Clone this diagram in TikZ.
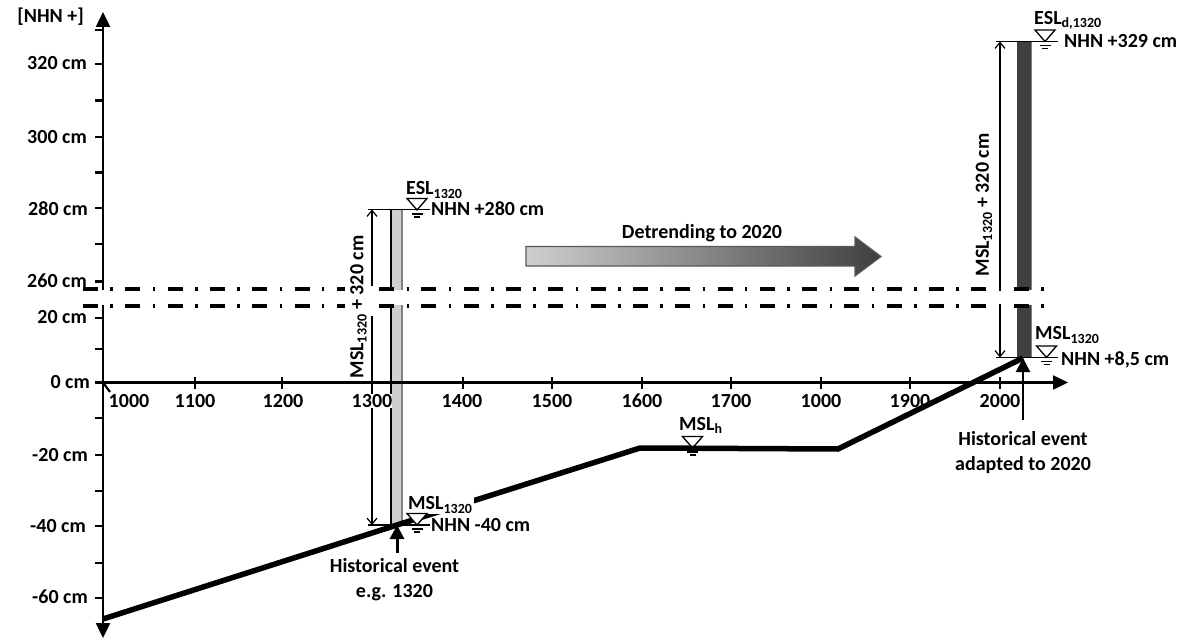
\documentclass[tikz,border=0pt]{standalone}
\usepackage{fontspec}
\setmainfont{Carlito}
\usetikzlibrary{arrows.meta, positioning}
\definecolor{barlight}{HTML}{CFCFCF}
\definecolor{bardark}{HTML}{3F3F3F}
\tikzset{
  lbl/.style={font=\fontsize{20}{25}\selectfont\bfseries, inner sep=0pt, text=black},
  ylbl/.style={lbl, anchor=east},
  xlbl/.style={lbl, anchor=center, fill=white},
  wlbl/.style={lbl, anchor=west},
  evlbl/.style={lbl, align=center, anchor=north},
  axis/.style={line width=2.4pt, -{Triangle[length=15pt,width=14pt]}},
  tick/.style={line width=2.2pt},
  breakline/.style={line width=3.5pt, dash pattern=on 15pt off 12.4pt on 2.5pt off 12.4pt},
  level/.style={line width=1.3pt},
  dimarrow/.style={line width=1.2pt, {Straight Barb[length=6pt,width=10pt]}-{Straight Barb[length=6pt,width=10pt]}},
  profile/.style={line width=5.5pt, line join=round},
  evarrow/.style={-{Triangle[length=14pt,width=14pt]}},
  wl/.pic={
    \draw[line width=1.3pt, fill=white] (-10,-11.5) -- (10,-11.5) -- (0,0) -- cycle;
    \draw[line width=1.3pt] (-5.5,4) -- (5.5,4);
    \draw[line width=1.3pt] (-3,7) -- (3,7);
  }
}
\begin{document}
\begin{tikzpicture}[x=1pt,y=-1pt]
\useasboundingbox (0,0) rectangle (1185,639);

\coordinate (origin) at (103,382.5);
\coordinate (ytop) at (103,12);
\coordinate (ybottom) at (103,638);
\coordinate (xend) at (1068,382.5);
\coordinate (profstart) at (103,619);
\coordinate (profa) at (397,525);
\coordinate (profb) at (640,448);
\coordinate (profc) at (838,449);
\coordinate (profd) at (1023,358);

% bars and levels
\fill[barlight] (391,209.5) rectangle (402,525);
\draw[line width=2pt] (391,209.5) -- (391,525);
\draw[line width=1.2pt, gray] (402,209.5) -- (402,525);
\fill[bardark] (1017,41.5) rectangle (1031.5,357.5);
\draw[line width=1.2pt, gray] (1031.5,41.5) -- (1031.5,357.5);
\draw[level] (368,209.5) -- (430,209.5);
\draw[level] (368,525) -- (430,525);
\draw[level] (996,41.5) -- (1058,41.5);
\draw[level] (996,357.5) -- (1058,357.5);
\draw[dimarrow] (372,209.5) -- (372,525);
\draw[dimarrow] (1000,41.5) -- (1000,357.5);

% axes
\draw[axis] (origin) -- (ytop);
\draw[axis] (origin) -- (ybottom);
\draw[axis] (origin) -- (xend);
\foreach \y in {30,64,100.5,137,172.5,208,244,281.5,318,349,418,455,491,526,563,598}
  \draw[tick] (95,\y) -- (103,\y);
\draw[tick] (95,382.5) -- (103,382.5);
\draw[tick] (103,382.5) -- (110,392);
\foreach \x in {195,282,372,463,552,642,731,821,910,1000}
  \draw[tick] (\x,377) -- (\x,389);

\node[ylbl] (nhn) at (84,17) {[NHN +]};
\foreach \y/\t/\r in {63/320 cm/87,137/300 cm/87,209/280 cm/88,281/260 cm/87,317/20 cm/87,382/0 cm/90,455/-20 cm/88,526/-40 cm/86,597/-60 cm/88}
  \node[ylbl] (y\y) at (\r,\y) {\t};
\foreach \x/\t in {129/1000,195/1100,283/1200,372/1300,462/1400,552/1500,642/1600,731/1700,821/1000,910/1900,1000/2000}
  \node[xlbl] (x\x) at (\x,401) {\t};

% axis break
\fill[white] (83,290) rectangle (1045,305);
\draw[breakline] (83,289) -- (1045,289);
\draw[breakline] (83,306) -- (1045,306);
\fill[white] (345,286) rectangle (379,316);

% sea level profile
\pic at (692.5,448) {wl};
\draw[profile] (profstart) -- (profa) -- (profb) -- (profc) -- (profd);
\node[wlbl] (mslh) at (679,425) {MSL\textsubscript{h}};

\node[wlbl, fill=white, inner xsep=2pt, inner ysep=1pt] (msllow) at (406,505) {MSL\textsubscript{1320}};
\pic at (417,210) {wl};
\pic at (417,525) {wl};
\pic at (1045,41.5) {wl};
\pic at (1046.5,357.5) {wl};

\node[wlbl] (esllow) at (406,190) {ESL\textsubscript{1320}};
\node[wlbl] (eslhigh) at (1034,20) {ESL\textsubscript{d,1320}};
\node[wlbl] (mslhigh) at (1035,335) {MSL\textsubscript{1320}};
\node[wlbl] (nhnesl) at (431,209) {NHN +280 cm};
\node[wlbl] (nhnmsl) at (431,525) {NHN -40 cm};
\node[wlbl] (nhnesld) at (1064,41) {NHN +329 cm};
\node[wlbl] (nhnmsld) at (1061,360) {NHN +8,5 cm};

\node[lbl, rotate=90] (dimlow) at (358.5,307) {MSL\textsubscript{1320} + 320 cm};
\node[lbl, rotate=90] (dimhigh) at (984,205) {MSL\textsubscript{1320} + 320 cm};

% detrending arrow
\draw[line width=1.2pt, draw=black!65, left color=barlight, right color=bardark]
  (526,246.5) -- (855,246.5) -- (855,237) -- (881,256.5) -- (855,276) -- (855,266) -- (526,266) -- cycle;
\node[lbl] (detrend) at (702,233) {Detrending to 2020};

% events
\node[evlbl, inner ysep=5pt] (evlow) at (394.5,553) {Historical event\\e.g. 1320};
\node[evlbl, inner ysep=11pt] (evhigh) at (1023,420) {Historical event\\adapted to 2020};
\draw[evarrow, line width=3pt] (evlow.north -| profa) -- (profa);
\draw[evarrow, line width=2pt] (evhigh.north) -- (profd);
\end{tikzpicture}
\end{document}
